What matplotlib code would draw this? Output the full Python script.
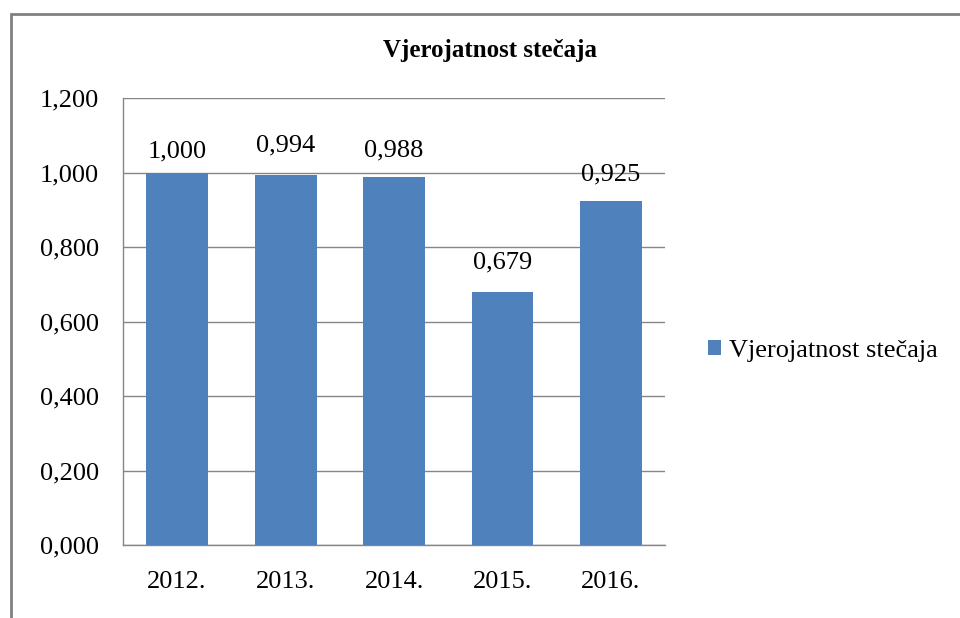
import matplotlib
matplotlib.use("Agg")
import matplotlib.pyplot as plt
from matplotlib.patches import Rectangle
from matplotlib.ticker import FuncFormatter

# data
years = ["2012.", "2013.", "2014.", "2015.", "2016."]
prob = [1.000, 0.994, 0.988, 0.679, 0.925]
series_name = "Vjerojatnost stečaja"

# label gap above each bar (points) - labels were hand-placed in the original
label_pad = [7.5, 13, 11.5, 13.5, 11]

plt.rcParams['font.family'] = ['Liberation Serif', 'DejaVu Serif']


def fmt(v):
    return f"{v:.3f}".replace(".", ",")


fig = plt.figure(figsize=(9.6, 6.18), dpi=100)
ax = fig.add_axes([0.128, 0.118, 0.565, 0.723])

x = range(len(years))
bars = ax.bar(x, prob, width=0.57, color="#4F81BD", label=series_name, zorder=3)

ax.set_xlim(-0.5, len(years) - 0.5)
ax.set_ylim(0, 1.2)
ax.set_yticks([0, 0.2, 0.4, 0.6, 0.8, 1.0, 1.2])
ax.yaxis.set_major_formatter(FuncFormatter(lambda v, p: fmt(v)))
ax.set_xticks(list(x))
ax.set_xticklabels(years)
ax.tick_params(axis='y', length=0, pad=17, labelsize=19)
ax.tick_params(axis='x', length=0, pad=19, labelsize=19)
ax.grid(axis='y', color='#868686', linewidth=1.0, zorder=0)

for s in ['top', 'right']:
    ax.spines[s].set_visible(False)
for s in ['left', 'bottom']:
    ax.spines[s].set_color('#868686')
    ax.spines[s].set_linewidth(1.0)

for b, v, p in zip(bars, prob, label_pad):
    ax.annotate(fmt(v), (b.get_x() + b.get_width() / 2, v), xytext=(0, p),
                textcoords='offset points', ha='center', va='bottom', fontsize=19)

fig.text(0.51, 1 - 57 / 618, series_name, ha='center', va='baseline',
         fontsize=18, fontweight='bold')

fig.legend(handles=[bars], labels=[series_name], loc='center left',
           bbox_to_anchor=(0.7125, 0.432), frameon=False, fontsize=19,
           handlelength=0.5, handleheight=0.5, handletextpad=0.3)

# outer chart frame
fig.add_artist(Rectangle((10.5 / 960, -0.1), 1.2, 0.1 + (618 - 13.5) / 618,
                         transform=fig.transFigure, fill=False,
                         edgecolor='#808080', linewidth=2))

fig.savefig("out.png", dpi=100, facecolor='white')
